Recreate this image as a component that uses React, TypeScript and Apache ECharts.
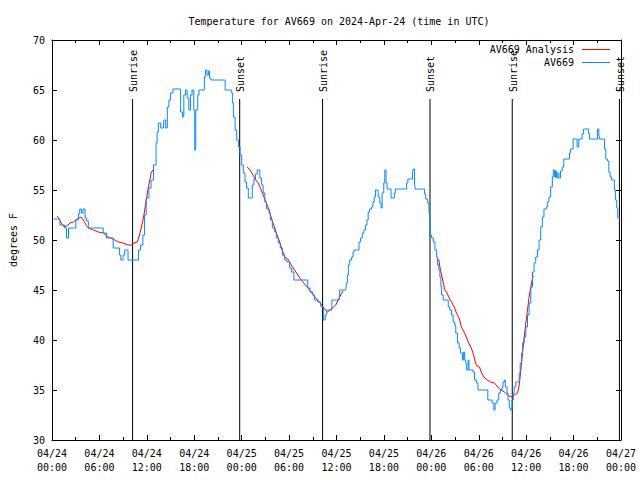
import React, { useEffect, useRef } from 'react';
import * as echarts from 'echarts';

const FONT = '"DejaVu Sans Mono", "Liberation Mono", monospace';

// x values are hours since 2024-04-24 00:00 UTC
const xTickHours = [0, 6, 12, 18, 24, 30, 36, 42, 48, 54, 60, 66, 72];
const yTicks = [30, 35, 40, 45, 50, 55, 60, 65, 70];

const sunHours = [10.2, 23.75, 34.24, 47.83, 58.24, 71.8];
const sunLabels = ['Sunrise', 'Sunset', 'Sunrise', 'Sunset', 'Sunrise', 'Sunset'];

const observations: [number, number][] = [
  [0.2,52.1],[0.84,52.1],[1.0,51.5],[1.6,51.2],[1.84,50.2],[2.09,51.2],[2.85,51.2],[3.01,52.0],[3.35,52.6],[3.51,53.1],
  [3.72,52.7],[3.93,53.1],[4.18,52.2],[4.39,51.9],[4.6,51.2],[6.27,51.2],[6.48,50.7],[6.7,50.7],[6.9,50.2],[7.53,50.2],
  [7.74,49.2],[8.37,49.2],[8.53,48.5],[8.7,48.0],[8.99,48.5],[9.2,49.0],[9.41,49.0],[9.62,48.0],[10.79,48.0],[10.95,49.0],
  [11.2,49.5],[11.5,50.5],[11.71,52.5],[11.92,54.2],[12.26,55.2],[12.54,56.0],[12.84,57.5],[13.17,59.7],[13.3,60.8],[13.46,61.7],
  [13.76,61.2],[14.09,61.2],[14.17,62.0],[14.39,61.2],[14.59,63.3],[14.8,64.0],[15.01,64.7],[15.3,65.1],[16.06,65.1],[16.27,62.8],
  [16.52,62.3],[16.68,64.5],[16.9,65.0],[17.1,64.2],[17.31,63.0],[17.52,64.5],[17.72,65.0],[17.94,63.0],[18.06,59.0],[18.19,63.0],
  [18.44,64.5],[18.6,65.0],[19.19,65.0],[19.28,66.3],[19.41,67.0],[19.61,66.5],[19.82,66.9],[19.94,66.2],[20.11,66.0],[21.79,66.0],
  [21.91,65.0],[22.62,65.0],[22.74,64.7],[22.83,63.7],[22.95,62.3],[23.17,61.0],[23.37,60.0],[23.58,59.3],[23.8,58.5],[24.0,57.5],
  [24.21,56.7],[24.42,55.8],[24.62,55.2],[24.84,54.2],[25.25,54.2],[25.34,55.5],[25.55,56.1],[25.75,56.6],[25.97,57.0],[26.13,57.0],
  [26.3,56.2],[26.5,55.5],[26.72,54.7],[26.93,53.8],[27.13,53.1],[27.47,52.7],[27.63,52.0],[27.88,51.2],[28.19,50.8],[28.39,50.2],
  [28.64,49.7],[28.89,49.2],[29.14,48.5],[29.44,48.0],[29.73,47.8],[30.07,47.2],[30.32,46.8],[30.61,46.0],[32.15,46.0],[32.36,45.2],
  [32.65,44.8],[32.99,44.5],[33.2,44.0],[33.62,43.8],[33.96,43.8],[34.03,43.3],[34.24,43.2],[34.37,42.0],[34.58,42.5],[34.75,43.0],
  [35.16,43.0],[35.41,44.0],[36.34,44.0],[36.41,45.0],[37.17,45.0],[37.25,45.7],[37.38,46.5],[37.5,47.5],[37.67,48.0],[37.92,48.3],
  [38.09,48.8],[38.22,49.0],[38.76,49.0],[38.85,49.8],[39.05,50.2],[39.26,50.7],[39.47,51.0],[39.68,51.5],[39.85,52.0],[40.01,52.8],
  [40.18,53.1],[40.43,53.3],[40.6,53.8],[40.77,54.3],[40.93,55.0],[41.14,55.0],[41.27,54.3],[41.48,53.7],[41.64,53.2],[41.77,54.7],
  [41.98,55.7],[42.11,57.0],[42.27,55.7],[42.4,55.1],[42.69,55.1],[42.9,54.2],[43.15,54.2],[43.31,54.7],[43.44,55.1],[44.69,55.1],
  [44.87,55.7],[45.03,56.1],[45.45,56.1],[45.62,56.7],[45.7,57.1],[45.87,55.7],[45.95,55.1],[47.0,55.1],[47.13,54.6],[47.29,54.1],
  [47.54,53.7],[47.7,52.7],[47.83,51.7],[47.88,50.5],[48.04,50.2],[48.25,49.8],[48.46,49.0],[48.67,48.3],[48.79,47.5],[48.96,47.0],
  [49.08,46.3],[49.21,45.3],[49.3,44.5],[49.5,44.0],[49.96,44.0],[50.14,43.3],[50.34,43.0],[50.55,42.5],[50.76,41.8],[50.96,41.5],
  [51.09,40.7],[51.3,39.7],[51.52,39.2],[51.68,38.7],[51.93,38.0],[52.09,38.8],[52.22,38.0],[52.34,37.7],[52.47,37.0],[52.65,38.0],
  [52.77,37.0],[52.97,37.0],[53.27,36.8],[53.47,36.0],[53.69,35.7],[53.9,35.0],[54.94,35.0],[55.15,34.0],[55.48,34.0],[55.69,33.7],
  [55.91,33.0],[56.07,33.7],[56.32,34.0],[56.53,34.7],[56.74,35.0],[56.95,35.3],[57.07,35.8],[57.24,36.0],[57.36,35.3],[57.58,34.7],
  [57.7,34.0],[57.86,33.2],[58.04,33.0],[58.2,34.0],[58.37,34.7],[58.49,35.3],[58.7,35.8],[58.92,35.8],[59.12,36.7],[59.24,37.7],
  [59.42,38.7],[59.54,39.7],[59.75,40.3],[59.96,41.3],[60.17,42.5],[60.37,43.7],[60.59,45.3],[60.8,46.8],[61.0,47.7],[61.21,48.3],
  [61.43,49.0],[61.63,50.0],[61.84,51.3],[62.05,52.3],[62.25,53.1],[62.55,53.3],[62.68,53.8],[62.88,54.3],[63.1,55.3],[63.31,56.3],
  [63.43,57.0],[63.6,56.3],[63.72,56.9],[63.85,56.2],[64.01,56.7],[64.14,56.2],[64.35,56.9],[64.56,57.3],[64.76,58.1],[65.27,58.1],
  [65.48,58.7],[65.6,59.1],[65.82,59.1],[65.94,60.1],[66.23,60.1],[66.44,59.3],[66.65,60.1],[66.86,60.1],[67.07,60.6],[67.27,61.1],
  [67.7,61.1],[67.9,60.6],[68.02,60.1],[68.86,60.1],[69.03,61.1],[69.2,60.6],[69.28,60.1],[69.78,60.1],[69.91,59.1],[70.08,58.1],
  [70.28,57.9],[70.46,56.8],[70.62,56.3],[70.83,56.0],[71.04,56.0],[71.16,55.0],[71.29,54.0],[71.46,53.2],[71.59,52.2],[71.87,52.2]
];

const analysisDay1: [number, number][] = [
  [0.63,52.4],[0.84,52.2],[1.17,51.7],[1.54,51.3],[1.88,51.4],[2.3,51.7],[2.72,51.8],[3.14,52.1],[3.68,52.3],[3.98,52.0],
  [4.3,51.5],[4.6,51.2],[5.23,51.0],[5.86,50.8],[6.49,50.7],[7.11,50.3],[7.74,50.1],[8.37,49.8],[8.99,49.7],[9.62,49.5],
  [10.03,49.5],[10.37,49.7],[10.79,49.8],[11.08,50.5],[11.38,51.5],[11.63,52.5],[11.83,53.5],[12.13,55.0],[12.33,55.8],[12.54,56.7],[12.76,57.0]
];
const analysisDay2: [number, number][] = [
  [24.71,57.3],[25.05,57.0],[25.38,56.6],[25.68,56.1],[26.09,55.7],[26.38,55.2],[26.72,54.5],[27.13,53.7],[27.47,53.0],[27.76,52.2],
  [28.06,51.5],[28.39,50.7],[28.72,50.0],[29.01,49.3],[29.44,48.3],[29.85,48.1],[30.27,47.5],[30.69,47.0],[31.11,46.5],[31.52,46.0],
  [32.07,45.5],[32.58,45.0],[33.08,44.5],[33.49,44.1],[33.83,43.8],[34.24,43.4],[34.58,43.0],[34.87,42.8],[35.16,43.0],[35.5,43.2],
  [35.91,43.5],[36.34,44.2],[36.67,44.7],[36.84,44.9]
];
const analysisDay3: [number, number][] = [
  [48.79,48.1],[48.96,48.0],[49.08,47.3],[49.3,46.5],[49.51,45.7],[49.71,45.0],[49.92,44.8],[50.21,44.3],[50.55,43.8],[50.89,43.3],
  [51.18,42.7],[51.52,42.2],[51.8,41.3],[52.14,40.8],[52.43,40.3],[52.72,39.7],[53.06,39.2],[53.35,38.5],[53.56,37.8],[53.77,37.4],
  [54.1,37.3],[54.31,36.8],[54.65,36.3],[55.07,36.0],[55.48,35.8],[55.98,35.7],[56.41,35.3],[56.82,35.0],[57.24,34.8],[57.66,34.5],
  [58.08,34.3],[58.49,34.5],[58.92,34.7],[59.12,35.5],[59.33,37.0],[59.54,38.7],[59.75,40.3],[59.96,41.7],[60.17,43.0],[60.37,44.3],
  [60.59,45.3],[60.8,46.2],[60.93,46.4]
];

const RED = '#ff0000';
const BLUE = '#0a88ff';

function pad(n: number) { return (n < 10 ? '0' : '') + n; }
function xLabel(v: number) {
  const day = 24 + Math.floor(v / 24);
  const hh = v % 24;
  return `04/${day}\n${pad(hh)}:00`;
}

const axisCommon = {
  axisLine: { show: true, onZero: false, lineStyle: { color: '#000', width: 1 } },
  splitLine: { show: false },
  minorSplitLine: { show: false },
};

export default function App() {
  const ref = useRef<HTMLDivElement>(null);
  useEffect(() => {
    const chart = echarts.init(ref.current!, null, { renderer: 'svg' });
    const xMin = xTickHours[0];
    const xMax = xTickHours[xTickHours.length - 1];
    const xInt = xTickHours[1] - xTickHours[0];
    const yMin = yTicks[0];
    const yMax = yTicks[yTicks.length - 1];
    const yInt = yTicks[1] - yTicks[0];
    const analysisSeries = [analysisDay1, analysisDay2, analysisDay3].map((d) => ({
      name: 'AV669 Analysis',
      type: 'line',
      data: d,
      showSymbol: false,
      symbol: 'none',
      lineStyle: { color: RED, width: 1 },
      itemStyle: { color: RED },
      z: 3,
    }));
    chart.setOption({
      animation: false,
      backgroundColor: '#fff',
      textStyle: { fontFamily: FONT },
      title: {
        text: 'Temperature for AV669 on 2024-Apr-24 (time in UTC)',
        left: 334,
        top: 11,
        textAlign: 'center',
        textStyle: { fontFamily: FONT, fontSize: 10, fontWeight: 'normal', color: '#000' },
      },
      legend: {
        data: ['AV669 Analysis', 'AV669'],
        orient: 'vertical',
        align: 'right',
        right: 25,
        top: 38,
        itemWidth: 28,
        itemHeight: 1,
        itemGap: 0,
        icon: 'rect',
        selectedMode: false,
        textStyle: { fontFamily: FONT, fontSize: 10, color: '#000', lineHeight: 13, padding: [0, 3, 0, 0] },
      },
      grid: { left: 47, right: 19, top: 40, bottom: 40, containLabel: false },
      xAxis: [
        {
          ...axisCommon,
          type: 'value', position: 'bottom', min: xMin, max: xMax, interval: xInt,
          axisTick: { show: true, inside: true, length: 5, lineStyle: { color: '#000' } },
          minorTick: { show: true, splitNumber: 2, length: 3, lineStyle: { color: '#000' } },
          axisLabel: { formatter: xLabel, fontFamily: FONT, fontSize: 10, color: '#000', lineHeight: 14, margin: 6 },
        },
        {
          ...axisCommon,
          type: 'value', position: 'top', min: xMin, max: xMax, interval: xInt,
          axisTick: { show: true, inside: true, length: 5, lineStyle: { color: '#000' } },
          minorTick: { show: true, splitNumber: 2, length: 3, lineStyle: { color: '#000' } },
          axisLabel: { show: false },
        },
      ],
      yAxis: [
        {
          ...axisCommon,
          type: 'value', position: 'left', min: yMin, max: yMax, interval: yInt,
          name: 'degrees F', nameLocation: 'middle', nameGap: 34,
          nameTextStyle: { fontFamily: FONT, fontSize: 10, color: '#000' },
          axisTick: { show: true, inside: true, length: 5, lineStyle: { color: '#000' } },
          axisLabel: { fontFamily: FONT, fontSize: 10, color: '#000', margin: 7 },
        },
        {
          ...axisCommon,
          type: 'value', position: 'right', min: yMin, max: yMax, interval: yInt,
          axisTick: { show: true, inside: true, length: 5, lineStyle: { color: '#000' } },
          axisLabel: { show: false },
        },
      ],
      series: [
        {
          type: 'custom',
          name: 'sun',
          xAxisIndex: 0,
          yAxisIndex: 0,
          z: 1,
          silent: true,
          data: sunHours.map((h) => [h, yMin]),
          encode: { x: 0, y: 1 },
          renderItem: (params: any, api: any) => {
            const h = api.value(0);
            const bottom = api.coord([h, yMin]);
            const top = api.coord([h, 64.1]);
            return {
              type: 'group',
              children: [
                {
                  type: 'line',
                  shape: { x1: bottom[0], y1: bottom[1], x2: top[0], y2: top[1] },
                  style: { stroke: '#000', lineWidth: 1 },
                },
                {
                  type: 'text',
                  x: top[0] + 1,
                  y: top[1] - 7,
                  rotation: Math.PI / 2,
                  style: {
                    text: sunLabels[params.dataIndex],
                    fill: '#000',
                    fontFamily: FONT,
                    fontSize: 10,
                    align: 'left',
                    verticalAlign: 'middle',
                  },
                },
              ],
            };
          },
        },
        ...analysisSeries,
        {
          name: 'AV669',
          type: 'line',
          data: observations,
          step: 'end',
          showSymbol: false,
          symbol: 'none',
          lineStyle: { color: BLUE, width: 1 },
          itemStyle: { color: BLUE },
          z: 4,
        },
      ],
    });
    return () => chart.dispose();
  }, []);
  return (
    <div
      ref={ref}
      style={{ position: 'fixed', left: 0, top: 0, width: 640, height: 480, background: '#fff' }}
    />
  );
}
